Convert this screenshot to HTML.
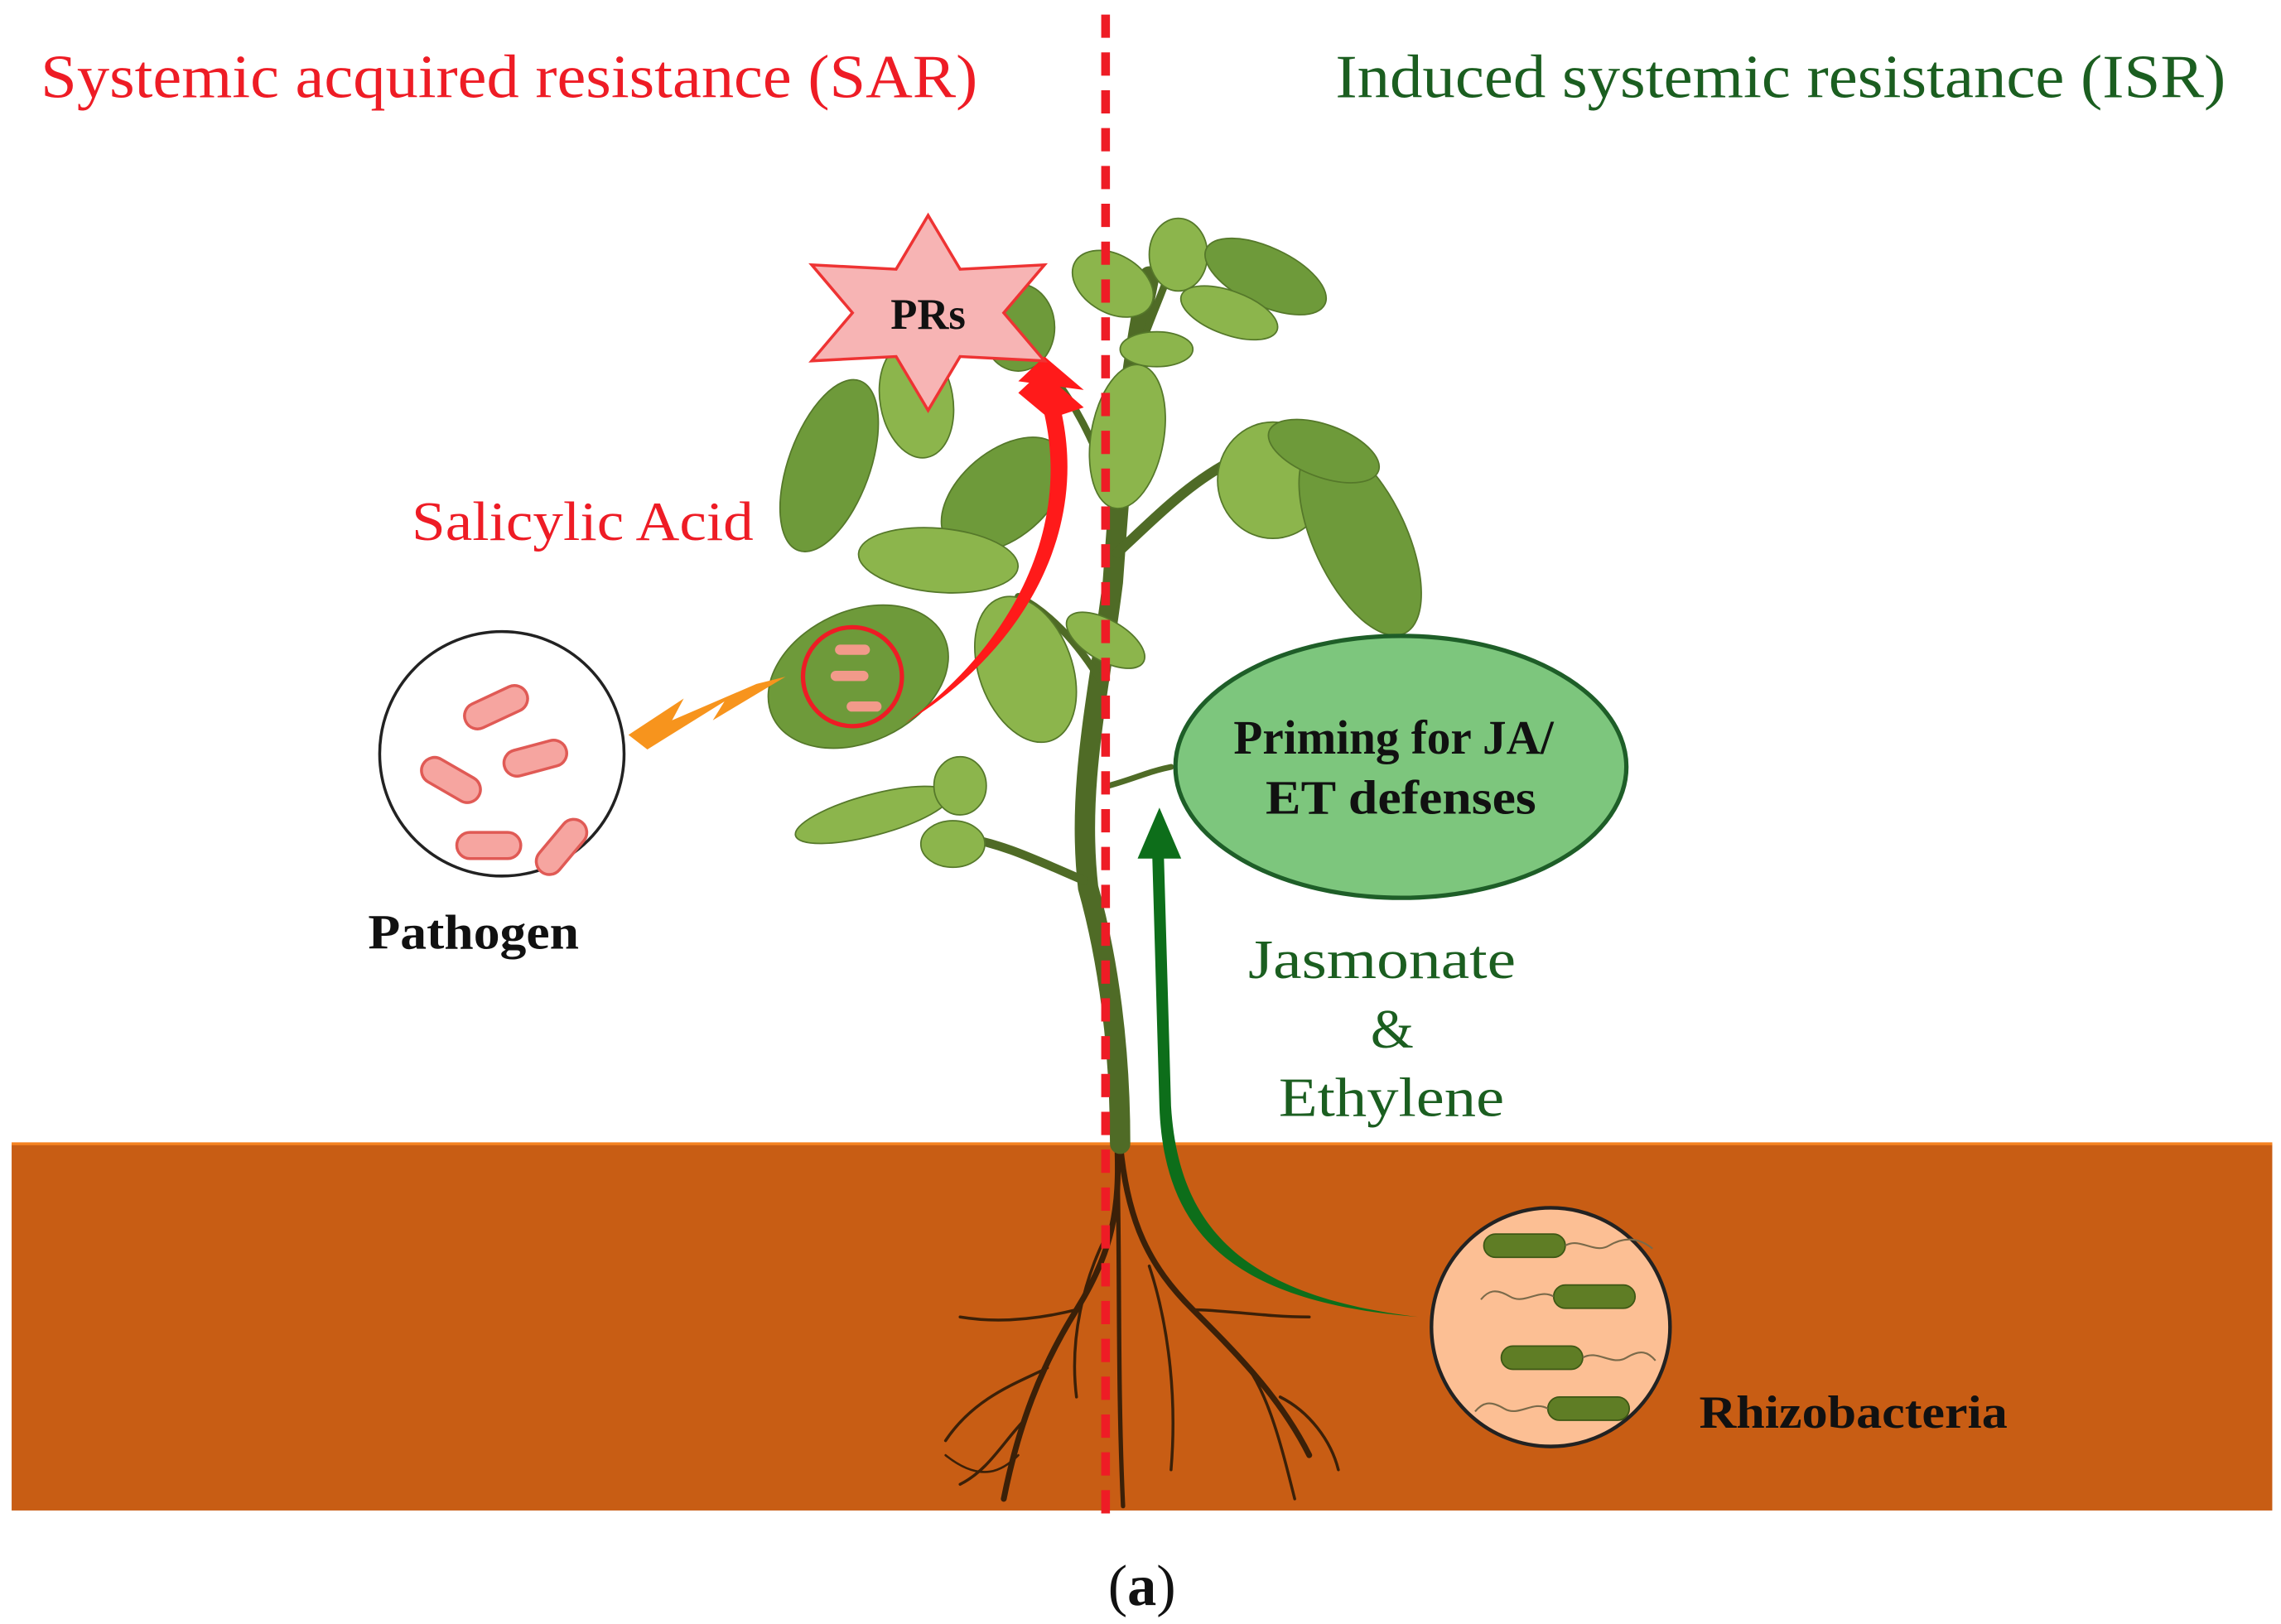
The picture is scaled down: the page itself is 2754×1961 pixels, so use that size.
<!DOCTYPE html>
<html><head><meta charset="utf-8"><style>
html,body{margin:0;padding:0;background:#fff}
svg{display:block}
text{font-family:"Liberation Serif",serif}
</style></head><body>
<svg width="2754" height="1961" viewBox="0 0 1568 1116" preserveAspectRatio="none" xmlns="http://www.w3.org/2000/svg">
<rect width="1568" height="1116" fill="#fff"/>
<rect x="8" y="786" width="1554" height="252" fill="#c85d14"/>
<line x1="8" y1="786" x2="1562" y2="786" stroke="#f58220" stroke-width="2"/>
<text x="28" y="67" font-size="42" fill="#ee1c25" textLength="644" lengthAdjust="spacingAndGlyphs">Systemic acquired resistance (SAR)</text>
<text x="918" y="67" font-size="42" fill="#1b5e20" textLength="612" lengthAdjust="spacingAndGlyphs">Induced systemic resistance (ISR)</text>
<g stroke="#3b2008" fill="none" stroke-linecap="round">
<path d="M768 786 C770 830 765 860 740 900 C715 940 700 980 690 1030" stroke-width="4"/>
<path d="M770 786 C775 840 790 870 820 900 C850 930 880 960 900 1000" stroke-width="4"/>
<path d="M768 800 C770 860 768 950 772 1035" stroke-width="3"/>
<path d="M740 900 C720 905 690 910 660 905" stroke-width="2"/>
<path d="M720 940 C700 950 670 960 650 990" stroke-width="2"/>
<path d="M705 975 C690 990 680 1010 660 1020" stroke-width="2"/>
<path d="M820 900 C840 900 870 905 900 905" stroke-width="2"/>
<path d="M850 930 C870 950 880 990 890 1030" stroke-width="2"/>
<path d="M790 870 C800 900 810 950 805 1010" stroke-width="2"/>
<path d="M760 850 C745 880 735 920 740 960" stroke-width="2"/>
<path d="M880 960 C900 970 915 990 920 1010" stroke-width="2"/>
<path d="M700 1000 C690 1010 675 1020 650 1000" stroke-width="1.5"/>
</g>
<g stroke="#4f6b26" fill="none" stroke-linecap="round">
<path d="M770 786 C770 720 762 660 748 610 C740 540 755 480 765 400 C770 330 775 260 790 190" stroke-width="14"/>
<path d="M745 605 C710 590 690 580 660 575" stroke-width="6"/>
<path d="M768 380 C800 350 820 330 850 315" stroke-width="7"/>
<path d="M762 540 C780 535 790 530 805 527" stroke-width="4"/>
<path d="M758 470 C740 440 720 420 700 410" stroke-width="5"/>
<path d="M762 330 C750 300 740 280 725 260" stroke-width="5"/>
<path d="M780 250 C790 220 800 200 810 170" stroke-width="5"/>
</g>
<g fill="#6e9a3a" stroke="#55782a" stroke-width="1">
<ellipse cx="570" cy="320" rx="28" ry="62" transform="rotate(20 570 320)"/>
<ellipse cx="630" cy="275" rx="25" ry="40" fill="#8cb54c" transform="rotate(-10 630 275)"/>
<ellipse cx="690" cy="340" rx="30" ry="50" transform="rotate(50 690 340)"/>
<ellipse cx="645" cy="385" rx="55" ry="22" fill="#8cb54c" transform="rotate(5 645 385)"/>
<ellipse cx="590" cy="465" rx="65" ry="45" transform="rotate(-25 590 465)"/>
<ellipse cx="705" cy="460" rx="32" ry="52" fill="#8cb54c" transform="rotate(-20 705 460)"/>
<ellipse cx="760" cy="440" rx="30" ry="14" fill="#8cb54c" transform="rotate(30 760 440)"/>
<ellipse cx="600" cy="560" rx="55" ry="14" fill="#8cb54c" transform="rotate(-15 600 560)"/>
<ellipse cx="660" cy="540" rx="18" ry="20" fill="#8cb54c"/>
<ellipse cx="655" cy="580" rx="22" ry="16" fill="#8cb54c"/>
<ellipse cx="775" cy="300" rx="25" ry="50" fill="#8cb54c" transform="rotate(10 775 300)"/>
<ellipse cx="700" cy="225" rx="25" ry="30"/>
<ellipse cx="765" cy="195" rx="30" ry="20" fill="#8cb54c" transform="rotate(30 765 195)"/>
<ellipse cx="810" cy="175" rx="20" ry="25" fill="#8cb54c"/>
<ellipse cx="870" cy="190" rx="45" ry="20" transform="rotate(25 870 190)"/>
<ellipse cx="845" cy="215" rx="35" ry="15" fill="#8cb54c" transform="rotate(20 845 215)"/>
<ellipse cx="795" cy="240" rx="25" ry="12" fill="#8cb54c"/>
<ellipse cx="875" cy="330" rx="38" ry="40" fill="#8cb54c"/>
<ellipse cx="935" cy="370" rx="32" ry="72" transform="rotate(-25 935 370)"/>
<ellipse cx="910" cy="310" rx="40" ry="18" transform="rotate(20 910 310)"/>
</g>
<line x1="760" y1="10" x2="760" y2="1040" stroke="#ee1c25" stroke-width="6" stroke-dasharray="16,10"/>
<path d="M622 497 C700 440 735 360 718 285 L700 270 L716 255 L745 280 L730 285 C748 370 700 450 622 497 Z" fill="#ff1a1a"/>
<path d="M700 262 L718 245 L745 268 Z" fill="#ff1a1a"/>
<path d="M975 905 C850 890 810 840 805 760 L800 585 L792 585 L797 760 C800 850 850 895 975 905 Z" fill="#0d6e1a"/>
<path d="M782 590 L797 555 L812 590 Z" fill="#0d6e1a"/>
<polygon points="638,148 660,185 718,182 690,215 718,248 660,245 638,282 616,245 558,248 586,215 558,182 616,185" fill="#f7b4b4" stroke="#e33" stroke-width="2"/>
<text x="638" y="226" font-size="30" font-weight="bold" text-anchor="middle" fill="#111">PRs</text>
<text x="283" y="371" font-size="38" fill="#ee1c25" textLength="235" lengthAdjust="spacingAndGlyphs">Salicylic Acid</text>
<circle cx="586" cy="465" r="34" fill="none" stroke="#ee1c25" stroke-width="3"/>
<rect x="574" y="443" width="24" height="7" rx="3.5" fill="#f29a8a"/>
<rect x="571" y="461" width="26" height="7" rx="3.5" fill="#f29a8a"/>
<rect x="582" y="482" width="24" height="7" rx="3.5" fill="#f29a8a"/>
<polygon points="432,505 470,480 462,495 520,470 540,465 490,495 498,482 445,515" fill="#f7941d"/>
<circle cx="345" cy="518" r="84" fill="#fff" stroke="#222" stroke-width="2"/>
<g fill="#f6a5a0" stroke="#e05a55" stroke-width="2">
<rect x="318" y="477" width="46" height="18" rx="9" transform="rotate(-25 341 486)"/>
<rect x="288" y="527" width="44" height="18" rx="9" transform="rotate(30 310 536)"/>
<rect x="346" y="512" width="44" height="18" rx="9" transform="rotate(-15 368 521)"/>
<rect x="314" y="572" width="44" height="18" rx="9"/>
<rect x="364" y="573" width="44" height="18" rx="9" transform="rotate(-50 386 582)"/>
</g>
<text x="253" y="652" font-size="34" font-weight="bold" fill="#111" textLength="145" lengthAdjust="spacingAndGlyphs">Pathogen</text>
<ellipse cx="963" cy="527" rx="155" ry="90" fill="#7dc67d" stroke="#1e5e28" stroke-width="3"/>
<text x="848" y="518" font-size="33" font-weight="bold" fill="#111" textLength="220" lengthAdjust="spacingAndGlyphs">Priming for JA/</text>
<text x="870" y="559" font-size="33" font-weight="bold" fill="#111" textLength="186" lengthAdjust="spacingAndGlyphs">ET defenses</text>
<text x="858" y="672" font-size="38" fill="#1b5e20" textLength="184" lengthAdjust="spacingAndGlyphs">Jasmonate</text>
<text x="957" y="720" font-size="38" text-anchor="middle" fill="#1b5e20">&amp;</text>
<text x="879" y="767" font-size="38" fill="#1b5e20" textLength="155" lengthAdjust="spacingAndGlyphs">Ethylene</text>
<circle cx="1066" cy="912" r="82" fill="#fcbf94" stroke="#222" stroke-width="2.5"/>
<g fill="#5f7d25" stroke="#3d5714" stroke-width="1">
<rect x="1020" y="848" width="56" height="16" rx="8"/>
<rect x="1068" y="883" width="56" height="16" rx="8"/>
<rect x="1032" y="925" width="56" height="16" rx="8"/>
<rect x="1064" y="960" width="56" height="16" rx="8"/>
</g>
<g stroke="#7a6a4a" stroke-width="1.2" fill="none">
<path d="M1076 856 c10 -6 20 6 30 0 s20 -6 30 2"/>
<path d="M1068 891 c-10 -6 -20 6 -30 0 s-15 -4 -20 2"/>
<path d="M1088 933 c10 -6 20 6 30 0 s15 -4 20 2"/>
<path d="M1064 968 c-10 -6 -20 6 -30 0 s-15 -4 -20 2"/>
</g>
<text x="1168" y="981" font-size="32" font-weight="bold" fill="#111" textLength="212" lengthAdjust="spacingAndGlyphs">Rhizobacteria</text>
<text x="785" y="1103" font-size="40" text-anchor="middle" fill="#111">(<tspan font-weight="bold">a</tspan>)</text>
</svg>
</body></html>
